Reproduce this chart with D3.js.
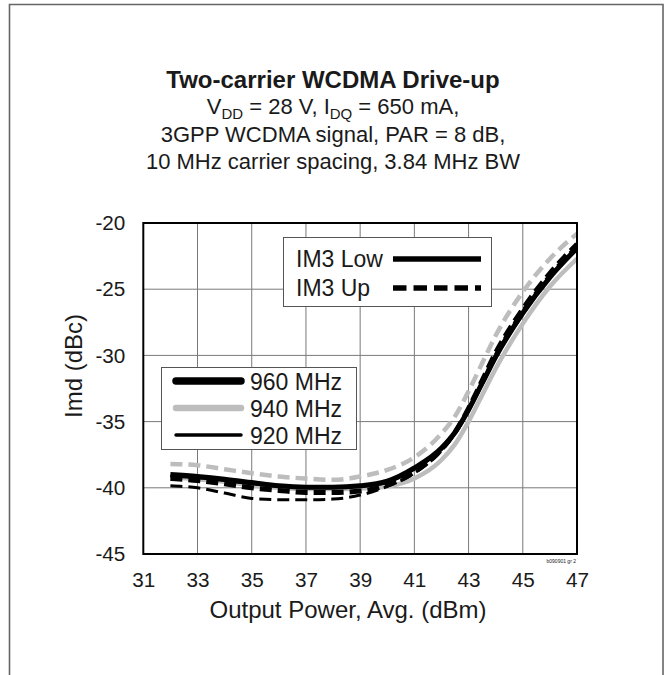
<!DOCTYPE html>
<html><head><meta charset="utf-8">
<script src="https://cdn.jsdelivr.net/npm/d3@7"></script>
<style>body{margin:0;background:#fff}svg{display:block}text{font-family:"Liberation Sans",Arial,sans-serif;fill:#1a1a1a}</style>
</head><body><svg id="c" width="668" height="675"></svg>
<script>
// ---- data ----
const power = [32,33,34,35,36,37,38,39,40,41,42,42.5,43,43.5,44,45,46,47];
const im3Low960 = [-39.0,-39.15,-39.35,-39.6,-39.85,-39.95,-39.95,-39.85,-39.5,-38.5,-37.0,-35.8,-34.1,-32.1,-30.1,-26.8,-24.1,-21.9];
const im3Up960  = [-39.3,-39.45,-39.7,-40.0,-40.2,-40.35,-40.35,-40.25,-39.8,-38.8,-37.1,-35.8,-34.0,-31.9,-29.8,-26.5,-23.8,-21.6];
const im3Low940 = [-39.2,-39.35,-39.55,-39.8,-40.0,-40.1,-40.1,-40.05,-39.9,-39.3,-37.9,-36.7,-35.0,-33.0,-31.0,-27.6,-24.8,-22.7];
const im3Up940  = [-38.2,-38.3,-38.6,-38.9,-39.15,-39.3,-39.4,-39.15,-38.65,-37.7,-35.9,-34.6,-32.7,-30.6,-28.5,-25.2,-22.7,-20.8];
const im3Low920 = [-39.1,-39.25,-39.45,-39.7,-39.9,-40.0,-40.0,-39.9,-39.6,-38.6,-37.1,-35.9,-34.2,-32.2,-30.2,-26.9,-24.1,-21.9];
const im3Up920  = [-39.85,-40.0,-40.4,-40.8,-40.9,-40.9,-40.85,-40.55,-39.9,-38.9,-37.2,-35.9,-34.1,-32.0,-29.9,-26.6,-23.9,-21.7];
const xTicks = [31,33,35,37,39,41,43,45,47];
const yTicks = [-20,-25,-30,-35,-40,-45];
const freqLabels = ["960 MHz","940 MHz","920 MHz"];
const typeLabels = ["IM3 Low","IM3 Up"];

const series = [
  {v: im3Low940, f:1, dash:false},
  {v: im3Up940,  f:1, dash:true},
  {v: im3Low920, f:2, dash:false},
  {v: im3Up920,  f:2, dash:true},
  {v: im3Low960, f:0, dash:false},
  {v: im3Up960,  f:0, dash:true}
];
const fColor = ["#000","#bdbdbd","#000"];
const fWidth = [5,4.5,3];
const fLegW = [7.5,6.5,3.5];

const svg = d3.select("#c");
const L=143.3, R=577, T=223, B=554;
const x = d3.scaleLinear().domain([31,47]).range([L,R]);
const y = d3.scaleLinear().domain([-45,-20]).range([B,T]);
const FF = "Liberation Sans, Arial, sans-serif";

// outer border
svg.append("path").attr("d","M9.5,680 V4.5 H663 V680").attr("fill","none").attr("stroke","#666").attr("stroke-width",1.6);

// title
const cx = 333;
svg.append("text").attr("x",cx).attr("y",88).attr("text-anchor","middle").attr("font-weight","bold").attr("font-size",24).text("Two-carrier WCDMA Drive-up");
const st = svg.append("text").attr("x",cx).attr("y",114).attr("text-anchor","middle").attr("font-size",22);
st.append("tspan").text("V");
st.append("tspan").attr("font-size",15).attr("dy",5).text("DD");
st.append("tspan").attr("dy",-5).text(" = 28 V, I");
st.append("tspan").attr("font-size",15).attr("dy",5).text("DQ");
st.append("tspan").attr("dy",-5).text(" = 650 mA,");
svg.append("text").attr("x",cx).attr("y",142).attr("text-anchor","middle").attr("font-size",22).text("3GPP WCDMA signal, PAR = 8 dB,");
svg.append("text").attr("x",cx).attr("y",169).attr("text-anchor","middle").attr("font-size",22).text("10 MHz carrier spacing, 3.84 MHz BW");

// grid
const g = svg.append("g");
g.selectAll("line.vx").data(xTicks.slice(1,-1)).join("line")
  .attr("x1",d=>x(d)).attr("x2",d=>x(d)).attr("y1",T).attr("y2",B).attr("stroke","#7a7a7a").attr("stroke-width",1);
g.selectAll("line.hy").data(yTicks.slice(1,-1)).join("line")
  .attr("y1",d=>y(d)).attr("y2",d=>y(d)).attr("x1",L).attr("x2",R).attr("stroke","#7a7a7a").attr("stroke-width",1);

// axes tick labels
const xa = d3.axisBottom(x).tickValues(xTicks).tickSize(0).tickPadding(18).tickFormat(d=>String(d));
const xg = svg.append("g").attr("transform",`translate(0,${B})`).call(xa);
xg.select(".domain").remove();
xg.selectAll("text").attr("font-size",20.7).attr("fill","#1a1a1a").style("font-family",FF);
const ya = d3.axisLeft(y).tickValues(yTicks).tickSize(0).tickPadding(18).tickFormat(d=>String(d));
const yg = svg.append("g").attr("transform",`translate(${L},0)`).call(ya);
yg.select(".domain").remove();
yg.selectAll("text").attr("font-size",20.7).attr("fill","#1a1a1a").style("font-family",FF);

// axis titles
svg.append("text").attr("x",348).attr("y",618).attr("text-anchor","middle").attr("font-size",24).text("Output Power, Avg. (dBm)");
svg.append("text").attr("transform","translate(82,366) rotate(-90)").attr("text-anchor","middle").attr("font-size",24).text("Imd (dBc)");

// clip
svg.append("clipPath").attr("id","pc").append("rect").attr("x",L).attr("y",T).attr("width",R-L).attr("height",B-T);

// curves
const line = d3.line().x((d,i)=>x(power[i])).y(d=>y(d)).curve(d3.curveMonotoneX);
svg.append("g").attr("clip-path","url(#pc)").selectAll("path").data(series).join("path")
  .attr("d",d=>line(d.v)).attr("fill","none")
  .attr("stroke",d=>fColor[d.f]).attr("stroke-width",d=>fWidth[d.f])
  .attr("stroke-dasharray",d=>d.dash?"12,6":null);

// frame
svg.append("rect").attr("x",L).attr("y",T).attr("width",R-L).attr("height",B-T).attr("fill","none").attr("stroke","#000").attr("stroke-width",2);

// legend 1 (type)
const l1 = svg.append("g");
l1.append("rect").attr("x",283.5).attr("y",237.5).attr("width",208).attr("height",69).attr("fill","#fff").attr("stroke","#555").attr("stroke-width",1);
typeLabels.forEach((t,i)=>{
  const yy = 259 + i*29;
  l1.append("text").attr("x",296).attr("y",yy+8).attr("font-size",23).text(t);
  l1.append("line").attr("x1",393).attr("x2",481).attr("y1",yy).attr("y2",yy).attr("stroke","#000").attr("stroke-width",5.5)
    .attr("stroke-dasharray",i?"13.5,7":null);
});

// legend 2 (frequency)
const l2 = svg.append("g");
l2.append("rect").attr("x",161.5).attr("y",367.5).attr("width",195).attr("height",82).attr("fill","#fff").attr("stroke","#555").attr("stroke-width",1);
freqLabels.forEach((t,i)=>{
  const yy = 381 + i*27;
  l2.append("line").attr("x1",176).attr("x2",241).attr("y1",yy).attr("y2",yy).attr("stroke",fColor[i]).attr("stroke-width",fLegW[i]).attr("stroke-linecap","round");
  l2.append("text").attr("x",250).attr("y",yy+8.5).attr("font-size",23).text(t);
});

// figure id
svg.append("text").attr("x",576).attr("y",563).attr("text-anchor","end").attr("font-size",5).attr("fill","#555").text("b090901 gr 2");
</script></body></html>
